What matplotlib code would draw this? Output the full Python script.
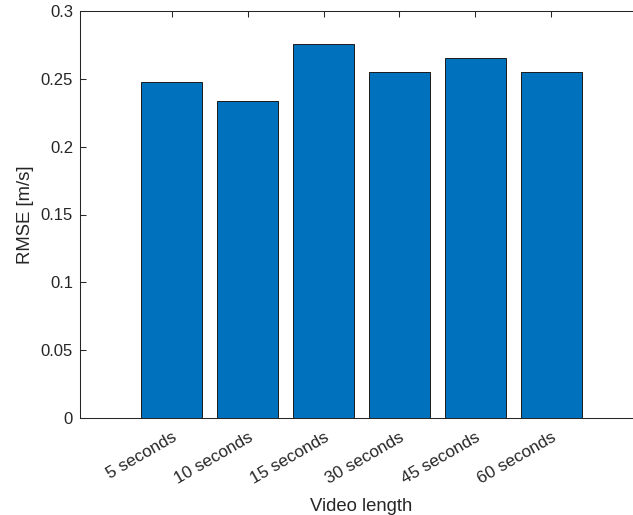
import matplotlib
matplotlib.use('Agg')
import matplotlib.pyplot as plt

# data
lengths = ['5 seconds', '10 seconds', '15 seconds', '30 seconds', '45 seconds', '60 seconds']
rmse = [0.248, 0.234, 0.276, 0.255, 0.265, 0.255]
y_ticks = [0, 0.05, 0.1, 0.15, 0.2, 0.25, 0.3]
y_tick_labels = ['0', '0.05', '0.1', '0.15', '0.2', '0.25', '0.3']

plt.rcParams['font.family'] = ['Liberation Sans', 'DejaVu Sans']

fig = plt.figure(figsize=(6.33, 5.15), dpi=100)
W, H = 633, 515
# right edge of the axes sits outside the picture (cropped like the original)
ax = fig.add_axes([80 / W, (H - 418) / H, (643 - 80) / W, (418 - 11) / H])

pos = list(range(1, len(lengths) + 1))
ax.bar(pos, rmse, width=0.8, color='#0072BD', edgecolor='#1a1a1a', linewidth=0.7, zorder=2)

ax.set_xlim(0.2 - 0.405, 6.8 + 0.405)
ax.set_ylim(0, 0.3)
ax.set_xticks(pos)
ax.set_xticklabels(lengths, rotation=30, ha='right', va='top', rotation_mode='anchor')
ax.set_yticks(y_ticks)
ax.set_yticklabels(y_tick_labels)

axis_col = '#262626'
for s in ax.spines.values():
    s.set_color(axis_col)
    s.set_linewidth(0.75)
    s.set_zorder(3)
ax.tick_params(direction='in', length=4.3, width=0.75, color=axis_col,
               labelcolor=axis_col, labelsize=12, top=True, right=True)
ax.tick_params(axis='y', pad=5)
ax.tick_params(axis='x', pad=8.5, labelsize=12.3)

ax.set_xlabel('Video length', fontsize=13.3, color=axis_col, labelpad=8)
ax.set_ylabel('RMSE [m/s]', fontsize=13.3, color=axis_col, labelpad=5)

fig.savefig('out.png', dpi=100)
